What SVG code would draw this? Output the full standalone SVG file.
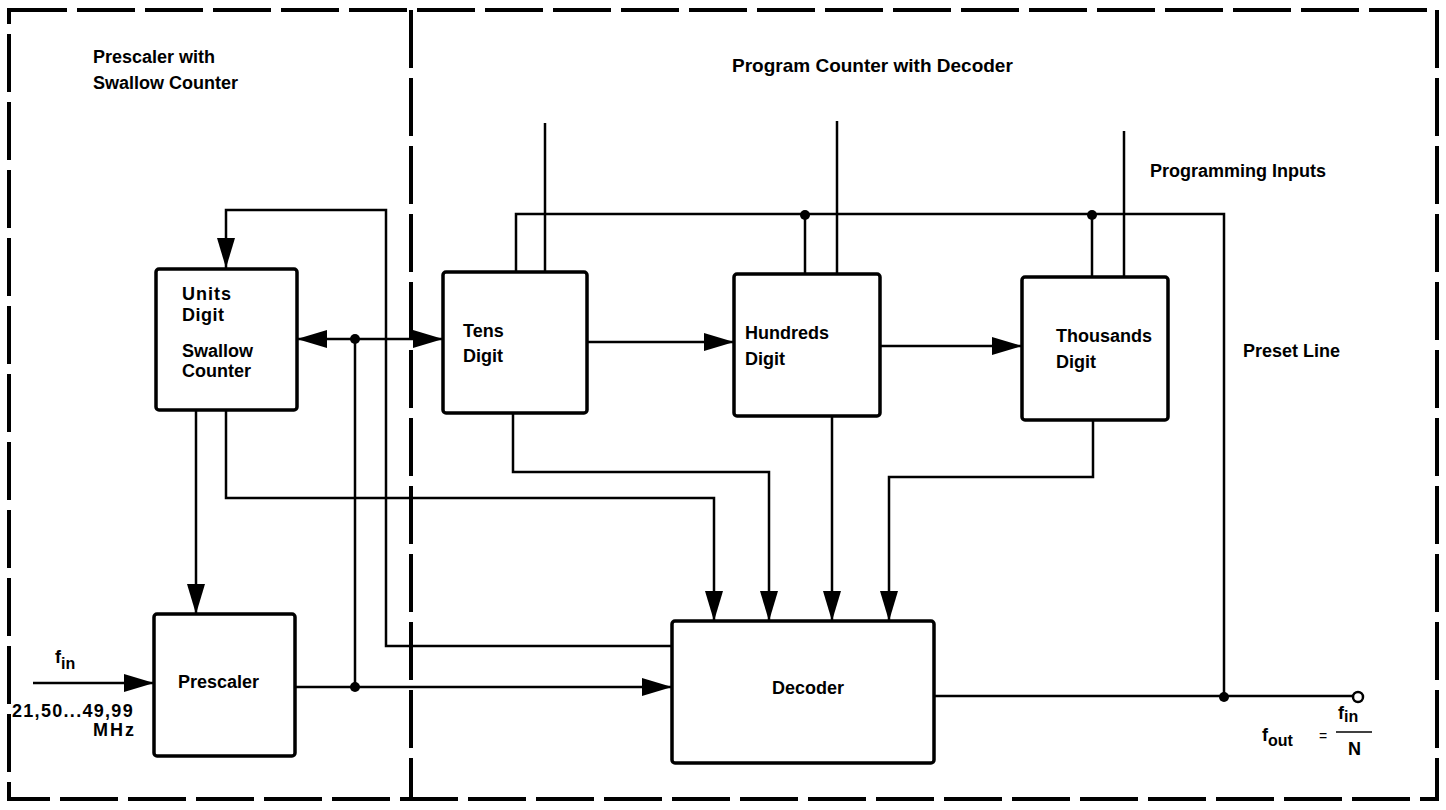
<svg xmlns="http://www.w3.org/2000/svg" width="1446" height="810" viewBox="0 0 1446 810">
<style>
.bg{fill:#ffffff}
.frame{fill:none;stroke:#000;stroke-width:4;stroke-dasharray:58 10}
.box{fill:#ffffff;stroke:#000;stroke-width:3.5}
.wire{fill:none;stroke:#000;stroke-width:2.5}
.dot{fill:#000}
.t{font-family:"Liberation Sans",Arial,Helvetica,sans-serif;font-weight:bold;font-size:18px;fill:#000}
.ttl{font-size:19px}
.sub{font-size:16px}
.eq{font-weight:normal;font-size:14px}
</style>
<defs>
<marker id="arr" markerUnits="userSpaceOnUse" markerWidth="30" markerHeight="18" refX="30" refY="9" orient="auto-start-reverse" viewBox="0 0 30 18">
<path d="M0,0 L30,9 L0,18 Z" fill="#000"/>
</marker>
</defs>
<rect class="bg" x="0" y="0" width="1446" height="810"/>

<g id="frames">
<rect class="frame" x="9" y="10" width="1428" height="789"/>
<line class="frame" x1="411" y1="10" x2="411" y2="799"/>
<text class="t" x="93" y="63">Prescaler with</text>
<text class="t" x="93" y="89">Swallow Counter</text>
<text class="t ttl" x="732" y="72">Program Counter with Decoder</text>
</g>

<g id="connectors">
<path class="wire" d="M672,646 H386 V210 H226 V268" marker-end="url(#arr)"/>
<path class="wire" d="M196,410 V614" marker-end="url(#arr)"/>
<path class="wire" d="M226,410 V498 H714 V621" marker-end="url(#arr)"/>
<path class="wire" d="M513,413 V472 H769 V621" marker-end="url(#arr)"/>
<path class="wire" d="M832,416 V621" marker-end="url(#arr)"/>
<path class="wire" d="M1093,420 V477 H889 V621" marker-end="url(#arr)"/>
<path class="wire" d="M295,687 H672" marker-end="url(#arr)"/>
<path class="wire" d="M355,687 V339"/>
<path class="wire" d="M297,339 H443" marker-start="url(#arr)" marker-end="url(#arr)"/>
<path class="wire" d="M587,342 H734" marker-end="url(#arr)"/>
<path class="wire" d="M880,346 H1022" marker-end="url(#arr)"/>
<path class="wire" d="M33,683 H154" marker-end="url(#arr)"/>
<path class="wire" d="M934,696 H1353"/>
<circle cx="1358" cy="697" r="5" fill="#fff" stroke="#000" stroke-width="2.5"/>
<path class="wire" d="M516,272 V214 H1224 V697"/>
<path class="wire" d="M805,215 V274"/>
<path class="wire" d="M1092,215 V277"/>
<path class="wire" d="M545,123 V272"/>
<path class="wire" d="M837,121 V274"/>
<path class="wire" d="M1124,131 V277"/>
<circle class="dot" cx="355" cy="339" r="5"/>
<circle class="dot" cx="355" cy="687" r="5"/>
<circle class="dot" cx="805" cy="215" r="5"/>
<circle class="dot" cx="1092" cy="215" r="5"/>
<circle class="dot" cx="1224" cy="697" r="5"/>
</g>

<g id="units">
<rect class="box" x="156" y="269" width="141" height="141" rx="3"/>
<text class="t" x="182" y="300" letter-spacing="1">Units</text>
<text class="t" x="182" y="321" letter-spacing="0.5">Digit</text>
<text class="t" x="182" y="357">Swallow</text>
<text class="t" x="182" y="377">Counter</text>
</g>

<g id="tens">
<rect class="box" x="443" y="272" width="144" height="141" rx="3"/>
<text class="t" x="463" y="337">Tens</text>
<text class="t" x="463" y="362">Digit</text>
</g>

<g id="hundreds">
<rect class="box" x="734" y="274" width="146" height="142" rx="3"/>
<text class="t" x="745" y="339">Hundreds</text>
<text class="t" x="745" y="365">Digit</text>
</g>

<g id="thousands">
<rect class="box" x="1022" y="277" width="146" height="143" rx="3"/>
<text class="t" x="1056" y="342">Thousands</text>
<text class="t" x="1056" y="368">Digit</text>
</g>

<g id="prescaler">
<rect class="box" x="154" y="614" width="141" height="142" rx="3"/>
<text class="t" x="178" y="688">Prescaler</text>
</g>

<g id="decoder">
<rect class="box" x="672" y="621" width="262" height="142" rx="3"/>
<text class="t" x="772" y="694">Decoder</text>
</g>

<g id="labels">
<text class="t" x="1150" y="177">Programming Inputs</text>
<text class="t" x="1243" y="357">Preset Line</text>
<text class="t" x="55" y="663">f<tspan class="sub" dy="6">in</tspan></text>
<text class="t" x="12" y="717" letter-spacing="1.3">21,50...49,99</text>
<text class="t" x="93" y="736" letter-spacing="2">MHz</text>
<text class="t" x="1262" y="741">f<tspan class="sub" dy="5">out</tspan></text>
<text class="t eq" x="1319" y="741">=</text>
<text class="t" x="1338" y="719">f<tspan class="sub" dy="3">in</tspan></text>
<line x1="1336" y1="732" x2="1372" y2="732" stroke="#000" stroke-width="1.5"/>
<text class="t" x="1348" y="755">N</text>
</g>
</svg>
